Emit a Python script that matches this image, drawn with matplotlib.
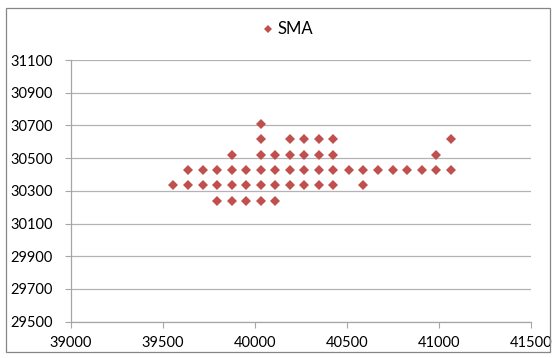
import matplotlib.pyplot as plt
from matplotlib.patches import Rectangle

# SMA scatter points (x, y)
sma_x = [39557,
         39637, 39637,
         39716, 39716,
         39796, 39796, 39796,
         39875, 39875, 39875, 39875,
         39954, 39954, 39954,
         40031, 40031, 40031, 40031, 40031, 40031,
         40110, 40110, 40110, 40110,
         40191, 40191, 40191, 40191,
         40269, 40269, 40269, 40269,
         40349, 40349, 40349, 40349,
         40426, 40426, 40426, 40426,
         40509,
         40588, 40588,
         40668,
         40749,
         40828,
         40908,
         40986, 40986,
         41066, 41066]
sma_y = [30335,
         30430, 30335,
         30430, 30335,
         30430, 30335, 30240,
         30520, 30430, 30335, 30240,
         30430, 30335, 30240,
         30710, 30615, 30520, 30430, 30335, 30240,
         30520, 30430, 30335, 30240,
         30615, 30520, 30430, 30335,
         30615, 30520, 30430, 30335,
         30615, 30520, 30430, 30335,
         30615, 30520, 30430, 30335,
         30430,
         30430, 30335,
         30430,
         30430,
         30430,
         30430,
         30430, 30520,
         30430, 30615]

x_ticks = [39000, 39500, 40000, 40500, 41000, 41500]
y_ticks = [29500, 29700, 29900, 30100, 30300, 30500, 30700, 30900, 31100]

plt.rcParams['font.family'] = ['Lato', 'DejaVu Sans']

fig = plt.figure(figsize=(5.56, 3.58), dpi=100)
ax = fig.add_axes([0.1272, 0.1014, 0.8278, 0.731])

grey = '#a6a6a6'
ax.plot(sma_x, sma_y, linestyle='none', marker='D', markersize=4.9,
        color='#c0504d', markeredgewidth=0, label='SMA', zorder=3)

ax.set_xlim(39000, 41500)
ax.set_ylim(29500, 31100)
ax.set_xticks(x_ticks)
ax.set_yticks(y_ticks)
ax.tick_params(labelsize=10.5, length=4, color=grey, colors='black')
ax.tick_params(axis='x', pad=6)
ax.tick_params(axis='y', pad=9)
ax.grid(axis='y', color='#b3b3b3', linewidth=0.9)
ax.set_axisbelow(True)
for s in ['top', 'right']:
    ax.spines[s].set_visible(False)
for s in ['left', 'bottom']:
    ax.spines[s].set_color(grey)
    ax.spines[s].set_linewidth(0.9)

leg = fig.legend(loc='center', bbox_to_anchor=(0.518, 0.918), frameon=False,
                 fontsize=12, handlelength=0.6, handletextpad=0.3,
                 markerscale=0.8)

# chart outer border
fig.patches.append(Rectangle((6 / 556, 6 / 358), 544 / 556, 344 / 358,
                             transform=fig.transFigure, fill=False,
                             edgecolor='#868686', linewidth=0.9))

fig.savefig('out.png', dpi=100)
